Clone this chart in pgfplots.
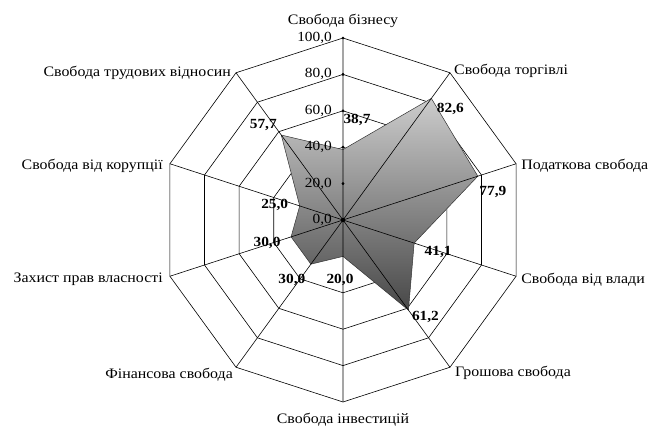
\documentclass[border=0pt]{standalone}
\usepackage{fontspec}
\setmainfont{Liberation Serif}[FakeStretch=1.1]
\usepackage{pgfplots}
\pgfplotsset{compat=1.18}
\usepgfplotslibrary{polar}
\usetikzlibrary{calc}
\begin{document}
\begin{tikzpicture}
\begin{polaraxis}[
  width=364bp, height=364bp, scale only axis,
  xmin=0, xmax=360, ymin=0, ymax=100,
  hide axis, clip=false,
  xtick=\empty, ytick=\empty,
  font=\fontsize{14.5}{16}\selectfont,
]
% decagon grid
\addplot[black, line width=0.6pt] coordinates {(90,20) (54,20) (18,20) (342,20) (306,20) (270,20) (234,20) (198,20) (162,20) (126,20) (90,20)};
\addplot[black, line width=0.6pt] coordinates {(90,40) (54,40) (18,40) (342,40) (306,40) (270,40) (234,40) (198,40) (162,40) (126,40) (90,40)};
\addplot[black, line width=0.6pt] coordinates {(90,60) (54,60) (18,60) (342,60) (306,60) (270,60) (234,60) (198,60) (162,60) (126,60) (90,60)};
\addplot[black, line width=0.6pt] coordinates {(90,80) (54,80) (18,80) (342,80) (306,80) (270,80) (234,80) (198,80) (162,80) (126,80) (90,80)};
\addplot[black, line width=0.6pt] coordinates {(90,100) (54,100) (18,100) (342,100) (306,100) (270,100) (234,100) (198,100) (162,100) (126,100) (90,100)};
% data
\addplot[draw=black!80, line width=0.5pt, top color=black!20, bottom color=black!72] coordinates {(90,38.7) (54,82.6) (18,77.9) (342,41.1) (306,61.2) (270,20.0) (234,30.0) (198,30.0) (162,25.0) (126,57.7) (90,38.7)};
% spokes
\addplot[black, line width=0.6pt] coordinates {(90,100) (90,0) (54,100) (54,0) (18,100) (18,0) (342,100) (342,0) (306,100) (306,0) (270,100) (270,0) (234,100) (234,0) (198,100) (198,0) (162,100) (162,0) (126,100) (126,0)};
\addplot[black, only marks, mark=*, mark size=1.2pt] coordinates {(90,20) (90,40) (90,60) (90,80) (90,100)};
\addplot[black, only marks, mark=*, mark size=2pt] coordinates {(0,0)};
% radial tick labels
\begin{scope}[every node/.style={inner sep=0pt, font=\fontsize{14}{16}\selectfont}]
\node[anchor=east] at (axis cs:90,0) [xshift=-11bp] {0,0};
\node[anchor=east] at (axis cs:90,20) [xshift=-11bp] {20,0};
\node[anchor=east] at (axis cs:90,40) [xshift=-11bp] {40,0};
\node[anchor=east] at (axis cs:90,60) [xshift=-11bp] {60,0};
\node[anchor=east] at (axis cs:90,80) [xshift=-11bp] {80,0};
\node[anchor=east] at (axis cs:90,100) [xshift=-11bp] {100,0};
\end{scope}
% category labels
\node[anchor=base, inner sep=0pt] at (axis cs:90,100) [yshift=13bp] {Свобода бізнесу};
\node[anchor=west, inner sep=0pt] at (axis cs:54,100) [xshift=4bp, yshift=2bp] {Свобода торгівлі};
\node[anchor=west, inner sep=0pt] at (axis cs:18,100) [xshift=5bp, yshift=-2bp] {Податкова свобода};
\node[anchor=west, inner sep=0pt] at (axis cs:342,100) [xshift=5bp, yshift=-3bp] {Свобода від влади};
\node[anchor=west, inner sep=0pt] at (axis cs:306,100) [xshift=5bp, yshift=-6bp] {Грошова свобода};
\node[anchor=center, inner sep=0pt] at (axis cs:270,100) [yshift=-18bp] {Свобода інвестицій};
\node[anchor=east, inner sep=0pt] at (axis cs:234,100) [xshift=-3bp, yshift=-7bp] {Фінансова свобода};
\node[anchor=east, inner sep=0pt] at (axis cs:198,100) [xshift=-7bp, yshift=-3bp] {Захист прав власності};
\node[anchor=east, inner sep=0pt] at (axis cs:162,100) [xshift=-7bp, yshift=-2bp] {Свобода від корупції};
\node[anchor=east, inner sep=0pt] at (axis cs:126,100) [xshift=-5bp, yshift=0bp] {Свобода трудових відносин};
% value labels
\begin{scope}[every node/.style={inner sep=0pt, font=\fontsize{14}{16}\selectfont\bfseries}]
\node at (axis cs:90,38.7) [xshift=14bp, yshift=30bp] {38,7};
\node at (axis cs:54,82.6) [xshift=19bp, yshift=-11bp] {82,6};
\node at (axis cs:18,77.9) [xshift=15bp, yshift=-16bp] {77,9};
\node at (axis cs:342,41.1) [xshift=24bp, yshift=-9bp] {41,1};
\node at (axis cs:306,61.2) [xshift=17bp, yshift=-7bp] {61,2};
\node at (axis cs:270,20.0) [xshift=-3bp, yshift=-24bp] {20,0};
\node at (axis cs:234,30.0) [xshift=-19bp, yshift=-16bp] {30,0};
\node at (axis cs:198,30.0) [xshift=-24bp, yshift=-6bp] {30,0};
\node at (axis cs:162,25.0) [xshift=-25bp, yshift=1bp] {25,0};
\node at (axis cs:126,57.7) [xshift=-18bp, yshift=10bp] {57,7};
\end{scope}
\coordinate (C) at (axis cs:0,0);
\end{polaraxis}
\pgfresetboundingbox
\path[use as bounding box] ($(C)+(-343bp,-212bp)$) rectangle ($(C)+(314bp,220bp)$);
\end{tikzpicture}
\end{document}
